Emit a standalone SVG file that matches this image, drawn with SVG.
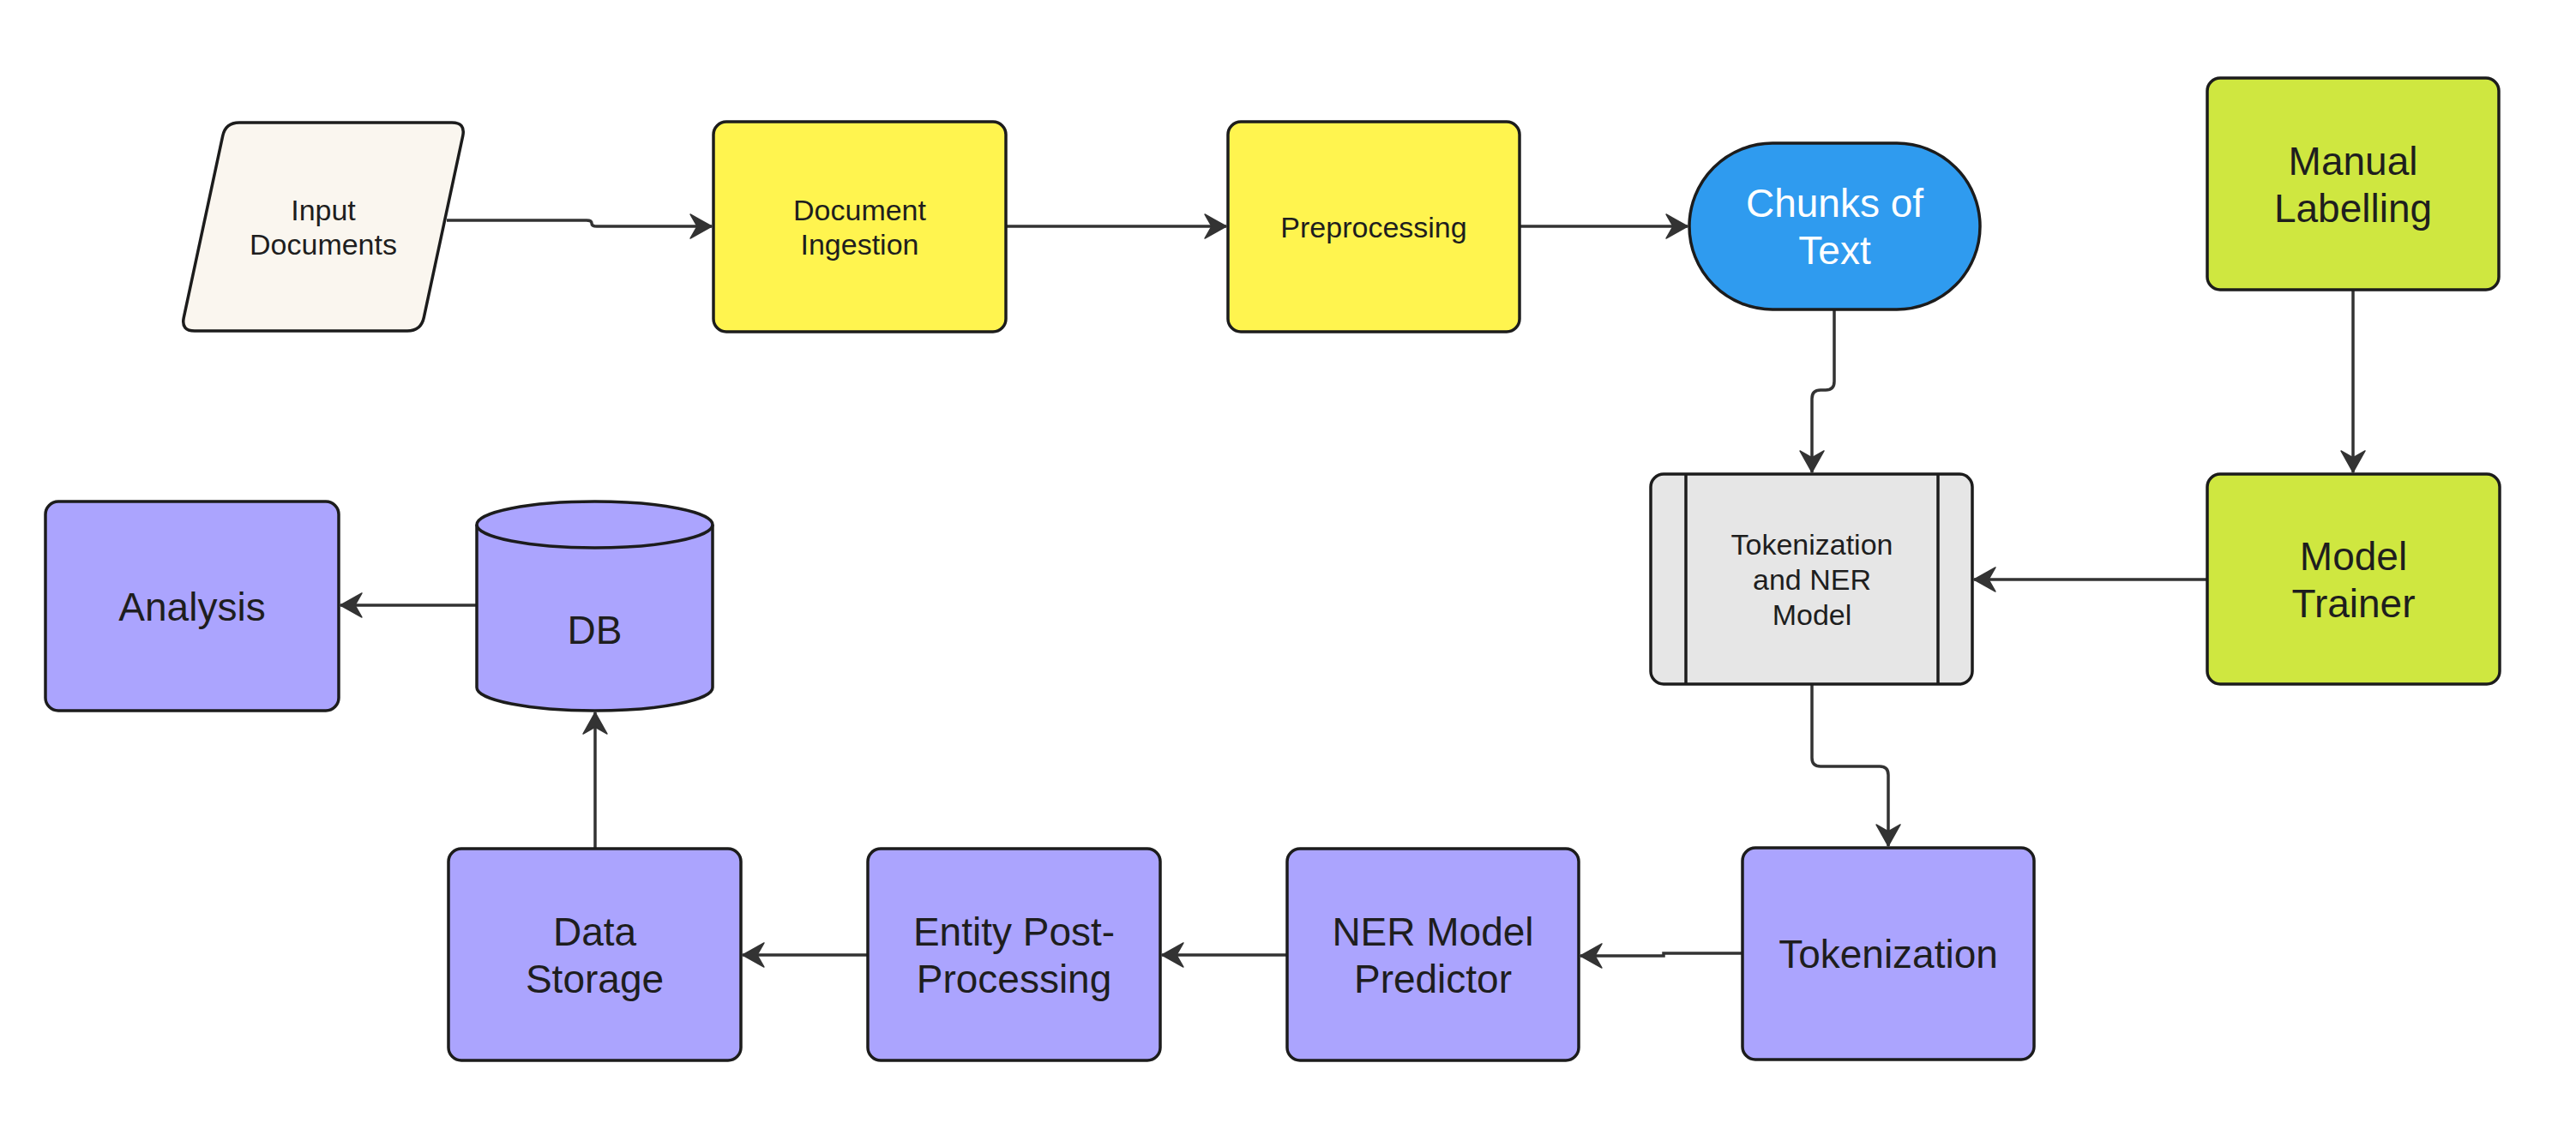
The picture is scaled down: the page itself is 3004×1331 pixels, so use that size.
<svg xmlns="http://www.w3.org/2000/svg" width="3004" height="1331" viewBox="0 0 3004 1331">
  <style>
    .node { stroke: #1c1c1c; stroke-width: 3.5; }
    .conn { fill: none; stroke: #333333; stroke-width: 3.5; }
    .t { font-family: "Liberation Sans", Arial, Helvetica, sans-serif; fill: #1e1e1e; text-anchor: middle; }
    .s { font-size: 34px; }
    .l { font-size: 46px; }
    .w { fill: #ffffff; }
    .yellow { fill: #fff44f; }
    .green { fill: #cfe740; }
    .purple { fill: #aba4fe; }
    .blue { fill: #2f9bef; }
    .cream { fill: #faf6ef; }
    .grey { fill: #e6e6e6; }
  </style>
  <defs>
    <marker id="arrow" viewBox="0 0 28 32" refX="27" refY="16" markerWidth="28" markerHeight="32" markerUnits="userSpaceOnUse" orient="auto">
      <path d="M27,16 L2,2 L10,16 L2,30 Z" fill="#333333" stroke="#333333" stroke-width="1.5" stroke-linejoin="round"/>
    </marker>
  </defs>
  <rect x="0" y="0" width="3004" height="1331" fill="#ffffff"/>

  <g id="connectors">
    <path class="conn" d="M521,257 H684 Q690,257 690,260.5 Q690,264 696,264 H830" marker-end="url(#arrow)"/>
    <path class="conn" d="M1173,264 H1430" marker-end="url(#arrow)"/>
    <path class="conn" d="M1772,264 H1968" marker-end="url(#arrow)"/>
    <path class="conn" d="M2139,362 V445 Q2139,455 2129,455 H2123 Q2113,455 2113,465 V551" marker-end="url(#arrow)"/>
    <path class="conn" d="M2744,339 V551" marker-end="url(#arrow)"/>
    <path class="conn" d="M2574,676 H2302" marker-end="url(#arrow)"/>
    <path class="conn" d="M2113,799 V884 Q2113,894 2123,894 H2192 Q2202,894 2202,904 V987" marker-end="url(#arrow)"/>
    <path class="conn" d="M2032,1112 H1940 V1115 H1843" marker-end="url(#arrow)"/>
    <path class="conn" d="M1501,1114 H1355" marker-end="url(#arrow)"/>
    <path class="conn" d="M1012,1114 H866" marker-end="url(#arrow)"/>
    <path class="conn" d="M694,990 V831" marker-end="url(#arrow)"/>
    <path class="conn" d="M556,706 H397" marker-end="url(#arrow)"/>
  </g>

  <g id="input-documents">
    <path class="node cream" d="M279,143 L527,143 Q543,143 539.7,158.6 L494.3,370.4 Q491,386 475,386 L227,386 Q211,386 214.3,370.4 L259.7,158.6 Q263,143 279,143 Z"/>
    <text class="t s" x="377" y="256.7">Input</text>
    <text class="t s" x="377" y="296.7">Documents</text>
  </g>

  <g id="document-ingestion">
    <rect class="node yellow" x="832" y="142" width="341" height="245" rx="15"/>
    <text class="t s" x="1002.5" y="256.7">Document</text>
    <text class="t s" x="1002.5" y="296.7">Ingestion</text>
  </g>

  <g id="preprocessing">
    <rect class="node yellow" x="1432" y="142" width="340" height="245" rx="15"/>
    <text class="t s" x="1602" y="276.7">Preprocessing</text>
  </g>

  <g id="chunks-of-text">
    <rect class="node blue" x="1970" y="167" width="339" height="194" rx="97" ry="97"/>
    <text class="t l w" x="2139.5" y="253">Chunks of</text>
    <text class="t l w" x="2139.5" y="308">Text</text>
  </g>

  <g id="manual-labelling">
    <rect class="node green" x="2574" y="91" width="340" height="247" rx="15"/>
    <text class="t l" x="2744" y="203.5">Manual</text>
    <text class="t l" x="2744" y="258.5">Labelling</text>
  </g>

  <g id="tokenization-ner-model">
    <rect class="node grey" x="1925" y="553" width="375" height="245" rx="15"/>
    <line class="node" x1="1966" y1="553" x2="1966" y2="798"/>
    <line class="node" x1="2260" y1="553" x2="2260" y2="798"/>
    <text class="t s" x="2113" y="646.7">Tokenization</text>
    <text class="t s" x="2113" y="687.7">and NER</text>
    <text class="t s" x="2113" y="728.7">Model</text>
  </g>

  <g id="model-trainer">
    <rect class="node green" x="2574" y="553" width="341" height="245" rx="15"/>
    <text class="t l" x="2744.5" y="664.5">Model</text>
    <text class="t l" x="2744.5" y="719.5">Trainer</text>
  </g>

  <g id="tokenization">
    <rect class="node purple" x="2032" y="989" width="340" height="247" rx="15"/>
    <text class="t l" x="2202" y="1129">Tokenization</text>
  </g>

  <g id="ner-model-predictor">
    <rect class="node purple" x="1501" y="990" width="340" height="247" rx="15"/>
    <text class="t l" x="1671" y="1103">NER Model</text>
    <text class="t l" x="1671" y="1158">Predictor</text>
  </g>

  <g id="entity-post-processing">
    <rect class="node purple" x="1012" y="990" width="341" height="247" rx="15"/>
    <text class="t l" x="1182.5" y="1103">Entity Post-</text>
    <text class="t l" x="1182.5" y="1158">Processing</text>
  </g>

  <g id="data-storage">
    <rect class="node purple" x="523" y="990" width="341" height="247" rx="15"/>
    <text class="t l" x="693.5" y="1103">Data</text>
    <text class="t l" x="693.5" y="1158">Storage</text>
  </g>

  <g id="db">
    <path class="node purple" d="M556,612 A137.5,27 0 0 1 831,612 V802 A137.5,27 0 0 1 556,802 Z"/>
    <path class="node" fill="none" d="M556,612 A137.5,27 0 0 0 831,612"/>
    <text class="t l" x="693.5" y="751">DB</text>
  </g>

  <g id="analysis">
    <rect class="node purple" x="53" y="585" width="342" height="244" rx="15"/>
    <text class="t l" x="224" y="723.5">Analysis</text>
  </g>
</svg>
